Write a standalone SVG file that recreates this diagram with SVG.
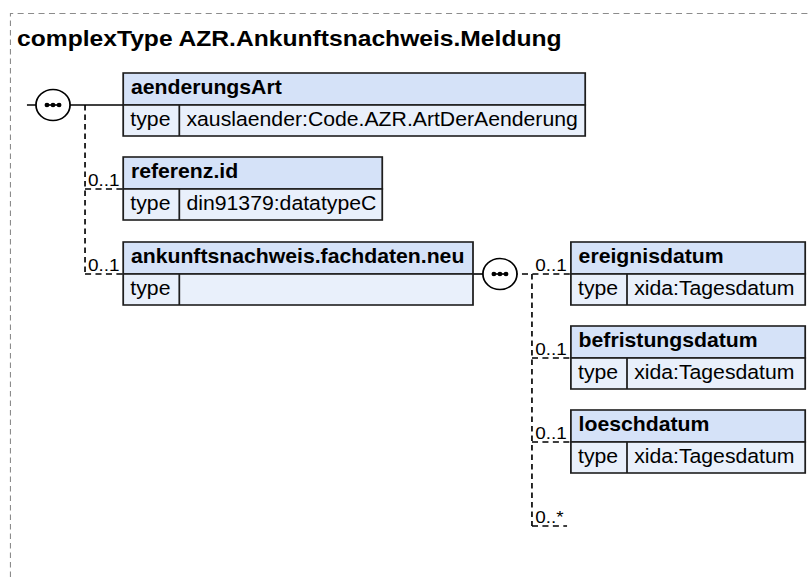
<svg xmlns="http://www.w3.org/2000/svg" width="810" height="577" viewBox="0 0 810 577">
<style>
text{font-family:"Liberation Sans",Arial,Helvetica,sans-serif;fill:#000}
.title{font-size:22.4px;font-weight:bold}
.hd{font-size:19.3px;font-weight:bold}
.tx{font-size:19.3px}
.card{font-size:17.2px}
.hdr{fill:#d5e2f8;stroke:#1e1e1e;stroke-width:1.6}
.row{fill:#e9f0fb;stroke:#1e1e1e;stroke-width:1.6}
.sep{stroke:#1e1e1e;stroke-width:1.6}
.solid{stroke:#000;stroke-width:1.6;fill:none}
.dash{stroke:#000;stroke-width:1.5;fill:none;stroke-dasharray:5.5 4}
.border{stroke:#8c8c8c;stroke-width:1;fill:none;stroke-dasharray:5.5 4}
.seq{fill:#fff;stroke:#000;stroke-width:1.6}
.dot{fill:#000}
</style>
<rect width="810" height="577" fill="#fff"/>
<g transform="scale(1.1 1)">
<path class="border" d="M9.5,577 V13.5 H740"/>
<text class="title" x="15.5" y="46.5">complexType AZR.Ankunftsnachweis.Meldung</text>

<g id="connectors">
<path class="solid" d="M24.5,105 H112"/>
<path class="dash" d="M77.3,105 V274"/>
<path class="dash" d="M77.3,189 H112"/>
<path class="dash" d="M77.3,274 H112"/>
<path class="solid" d="M430,274 H445"/>
<path class="dash" d="M465,274 H519"/>
<path class="dash" d="M483.6,274 V526"/>
<path class="dash" d="M483.6,358 H519"/>
<path class="dash" d="M483.6,442 H519"/>
<path class="dash" d="M483.6,526 H515.5"/>
<text class="card" x="80" y="186">0..1</text>
<text class="card" x="80" y="271">0..1</text>
<text class="card" x="486.5" y="271">0..1</text>
<text class="card" x="486.5" y="355">0..1</text>
<text class="card" x="486.5" y="439">0..1</text>
<text class="card" x="486.5" y="523">0..*</text>
</g>

<g id="seq1">
<circle class="seq" cx="48.2" cy="105" r="15.5"/>
<path class="solid" d="M41.5,105 H55" stroke-width="1.4"/>
<circle class="dot" cx="42.7" cy="105" r="2.2"/>
<circle class="dot" cx="48.2" cy="105" r="2.2"/>
<circle class="dot" cx="53.7" cy="105" r="2.2"/>
</g>

<g id="seq2">
<circle class="seq" cx="454.5" cy="274" r="15.5"/>
<path class="solid" d="M447.8,274 H461.2" stroke-width="1.4"/>
<circle class="dot" cx="449" cy="274" r="2.2"/>
<circle class="dot" cx="454.5" cy="274" r="2.2"/>
<circle class="dot" cx="460" cy="274" r="2.2"/>
</g>

<g id="aenderungsArt">
<rect class="hdr" x="112" y="73" width="420" height="32"/>
<rect class="row" x="112" y="105" width="420" height="31"/>
<line class="sep" x1="163" y1="105" x2="163" y2="136"/>
<text class="hd" x="119" y="94.5">aenderungsArt</text>
<text class="tx" x="118.5" y="126">type</text>
<text class="tx" x="169.5" y="126">xauslaender:Code.AZR.ArtDerAenderung</text>
</g>

<g id="referenz.id">
<rect class="hdr" x="112" y="157" width="235.5" height="32"/>
<rect class="row" x="112" y="189" width="235.5" height="31"/>
<line class="sep" x1="163" y1="189" x2="163" y2="220"/>
<text class="hd" x="119" y="178.5">referenz.id</text>
<text class="tx" x="118.5" y="210">type</text>
<text class="tx" x="169.5" y="210">din91379:datatypeC</text>
</g>

<g id="ankunftsnachweis.fachdaten.neu">
<rect class="hdr" x="112" y="242" width="318" height="32"/>
<rect class="row" x="112" y="274" width="318" height="31"/>
<line class="sep" x1="163" y1="274" x2="163" y2="305"/>
<text class="hd" x="119" y="263.5">ankunftsnachweis.fachdaten.neu</text>
<text class="tx" x="118.5" y="295">type</text>
</g>

<g id="ereignisdatum">
<rect class="hdr" x="519" y="242" width="213" height="32"/>
<rect class="row" x="519" y="274" width="213" height="31"/>
<line class="sep" x1="570" y1="274" x2="570" y2="305"/>
<text class="hd" x="526" y="263.5">ereignisdatum</text>
<text class="tx" x="525.5" y="295">type</text>
<text class="tx" x="576.5" y="295">xida:Tagesdatum</text>
</g>

<g id="befristungsdatum">
<rect class="hdr" x="519" y="326" width="213" height="32"/>
<rect class="row" x="519" y="358" width="213" height="31"/>
<line class="sep" x1="570" y1="358" x2="570" y2="389"/>
<text class="hd" x="526" y="347.5">befristungsdatum</text>
<text class="tx" x="525.5" y="379">type</text>
<text class="tx" x="576.5" y="379">xida:Tagesdatum</text>
</g>

<g id="loeschdatum">
<rect class="hdr" x="519" y="410" width="213" height="32"/>
<rect class="row" x="519" y="442" width="213" height="31"/>
<line class="sep" x1="570" y1="442" x2="570" y2="473"/>
<text class="hd" x="526" y="431.5">loeschdatum</text>
<text class="tx" x="525.5" y="463">type</text>
<text class="tx" x="576.5" y="463">xida:Tagesdatum</text>
</g>
</g>
</svg>
